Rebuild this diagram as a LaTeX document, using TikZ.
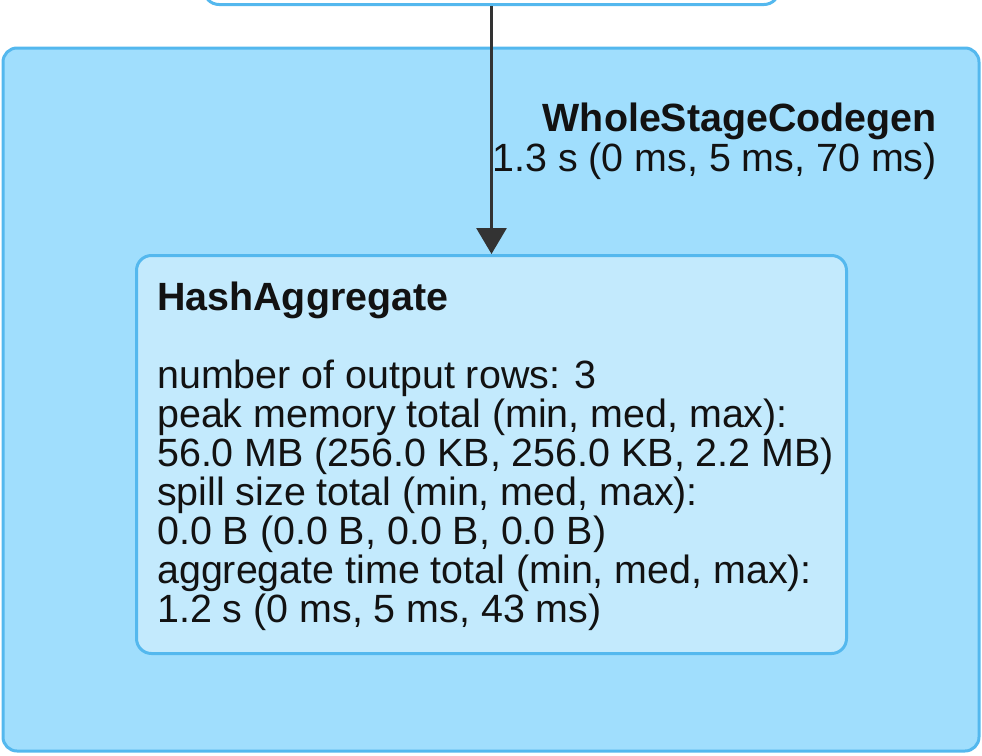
\documentclass[tikz,border=0pt]{standalone}
\usepackage{fontspec}
\setmainfont{Liberation Sans}
\usetikzlibrary{arrows.meta,positioning}
\definecolor{clusterfill}{RGB}{160,222,253}
\definecolor{nodefill}{RGB}{195,234,253}
\definecolor{edgeblue}{RGB}{84,184,238}
\definecolor{arrowgray}{RGB}{51,51,51}

\begin{document}
\begin{tikzpicture}[x=1pt,y=-1pt,
	every node/.style={font=\fontsize{39.4}{39}\selectfont, text=black!93, inner sep=0pt},
	cluster/.style={draw=edgeblue, fill=clusterfill, line width=3pt, rounded corners=14pt},
	opbox/.style={draw=edgeblue, fill=nodefill, line width=3pt, rounded corners=15pt}]
	\useasboundingbox (0,0) rectangle (982,755);
	% boxes
	\node[opbox, fill=white, minimum width=575pt, minimum height=80pt] (upstream) at (491.5,-35.5) {};
	\node[cluster, minimum width=976pt, minimum height=703pt] (wscg) at (491,399.5) {};
	\node[opbox, minimum width=710pt, minimum height=398pt] (hashagg) at (491.5,454.5) {};
	% edge
	\draw[arrowgray, line width=3pt, -{Triangle[width=30pt,length=26pt]}] (upstream.south) -- (hashagg.north);
	% cluster label
	\node[anchor=base east, font=\fontsize{39.4}{39}\selectfont\bfseries] (wscgname) at (937,131) {WholeStageCodegen};
	\node[anchor=base east] (wscgtime) at ([yshift=-40pt]wscgname.base east) {1.3 s (0 ms, 5 ms, 70 ms)};
	% node label (base of a multi-line node is its last line)
	\node[anchor=base west, font=\fontsize{39.4}{39}\selectfont\bfseries] (aggname) at (157,310) {HashAggregate};
	\node[anchor=base west, align=left] (aggmetrics) at (157,622) {number of output rows: 3\\
		peak memory total (min, med, max):\\
		56.0 MB (256.0 KB, 256.0 KB, 2.2 MB)\\
		spill size total (min, med, max):\\
		0.0 B (0.0 B, 0.0 B, 0.0 B)\\
		aggregate time total (min, med, max):\\
		1.2 s (0 ms, 5 ms, 43 ms)};
\end{tikzpicture}
\end{document}
